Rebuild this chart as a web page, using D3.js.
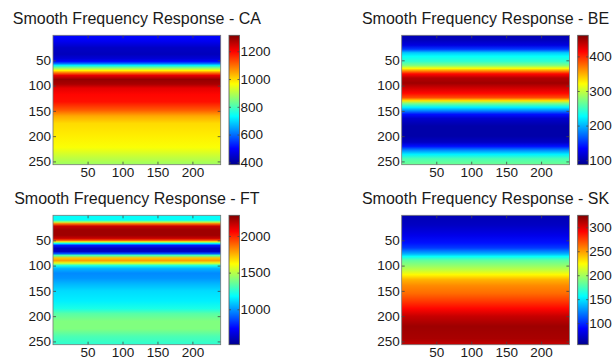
<!DOCTYPE html>
<html>
<head>
<meta charset="utf-8">
<script src="https://cdn.jsdelivr.net/npm/d3@7"></script>
<style>
  body { margin: 0; background: #fff; }
  text { font-family: Arial, "Liberation Sans", sans-serif; fill: #1a1a1a; }
</style>
</head>
<body>
<svg id="chart" width="612" height="359"></svg>
<script>
// image size (rows x columns) and shared ticks
const num_rows = 256;
const num_cols = 240;
const x_ticks = [50, 100, 150, 200];
const y_ticks = [50, 100, 150, 200, 250];

// row profiles (each row is nearly constant across columns)
const ca_rows = [1, 12, 25, 38, 47, 52, 56, 60, 65, 70, 75, 80, 88, 97, 105, 118, 132, 148, 160, 175, 200, 222, 240, 256];
const ca_values = [504, 486, 439, 430, 458, 504, 588, 719, 849, 970, 1101, 1222, 1296, 1278, 1222, 1194, 1185, 1119, 1045, 998, 980, 961, 914, 877];
const ca_range = [383, 1315];
const ca_ticks = [400, 600, 800, 1000, 1200];

const be_rows = [1, 10, 20, 28, 35, 42, 52, 60, 66, 71, 77, 85, 95, 105, 115, 124, 130, 136, 143, 150, 157, 165, 180, 200, 212, 220, 228, 236, 245, 256];
const be_values = [102, 106, 121, 154, 207, 229, 244, 274, 319, 364, 412, 442, 450, 431, 412, 386, 330, 267, 222, 181, 139, 113, 98, 98, 109, 139, 184, 222, 255, 267];
const be_range = [87, 461];
const be_ticks = [100, 200, 300, 400];

const ft_rows = [1, 10, 14, 17, 22, 30, 40, 46, 50, 53, 56, 60, 66, 72, 76, 80, 85, 90, 95, 100, 106, 115, 125, 135, 150, 170, 185, 195, 210, 225, 240, 256];
const ft_values = [1188, 1188, 1488, 1841, 2158, 2229, 2229, 2158, 1929, 1576, 1188, 782, 605, 623, 870, 1311, 1717, 1788, 1576, 1223, 1047, 976, 994, 1047, 1117, 1153, 1223, 1329, 1400, 1400, 1311, 1258];
const ft_range = [517, 2282];
const ft_ticks = [1000, 1500, 2000];

const sk_rows = [1, 20, 40, 55, 65, 72, 77, 82, 90, 100, 108, 118, 128, 140, 155, 170, 185, 200, 220, 245, 256];
const sk_values = [66, 71, 82, 93, 104, 123, 136, 158, 182, 195, 206, 225, 244, 255, 263, 276, 290, 306, 317, 314, 306];
const sk_range = [55, 325];
const sk_ticks = [100, 150, 200, 250, 300];

const panel_names = ["CA", "BE", "FT", "SK"];

// matlab jet colormap
const jet_stops = [0, 0.125, 0.375, 0.625, 0.875, 1];
const jet_colors = ["#00008f", "#0000ff", "#00ffff", "#ffff00", "#ff0000", "#800000"];
const jet = d3.scaleLinear().domain(jet_stops).range(jet_colors).clamp(true);

const col_x = [53, 401.7];
const row_y = [35.3, 215.3];
const plot_w = 167.7;
const plot_h = 129.4;
const cbar_gap = 8.3;
const cbar_w = 10.5;
const tick_len = 3;
const label_size = "13.5px";

const svg = d3.select("#chart");
const defs = svg.append("defs");

const panels = [
  { rows: ca_rows, values: ca_values, range: ca_range, ticks: ca_ticks, col: 0, row: 0 },
  { rows: be_rows, values: be_values, range: be_range, ticks: be_ticks, col: 1, row: 0 },
  { rows: ft_rows, values: ft_values, range: ft_range, ticks: ft_ticks, col: 0, row: 1 },
  { rows: sk_rows, values: sk_values, range: sk_range, ticks: sk_ticks, col: 1, row: 1 },
];

function styleAxis(g, show_labels) {
  g.select(".domain").remove();
  g.selectAll(".tick line").attr("stroke", "#444").attr("stroke-width", 0.8);
  if (show_labels) g.selectAll(".tick text").attr("font-size", label_size).attr("fill", "#1a1a1a");
  else g.selectAll(".tick text").remove();
}

function drawPanel(p, i) {
  const name = panel_names[i];
  const left = col_x[p.col];
  const top = row_y[p.row];
  const fmt = d3.format("d");

  const x = d3.scaleLinear().domain([0.5, num_cols + 0.5]).range([left, left + plot_w]);
  const y = d3.scaleLinear().domain([0.5, num_rows + 0.5]).range([top, top + plot_h]);
  const color = d3.scaleSequential((t) => jet(t)).domain(p.range).clamp(true);

  // heatmap: vertical gradient with one stop per sampled row
  const grad = defs
    .append("linearGradient")
    .attr("id", "grad_" + name)
    .attr("gradientUnits", "userSpaceOnUse")
    .attr("x1", 0).attr("x2", 0)
    .attr("y1", y(0.5)).attr("y2", y(num_rows + 0.5));
  p.rows.forEach((r, k) => {
    grad.append("stop")
      .attr("offset", (y(r) - y(0.5)) / (y(num_rows + 0.5) - y(0.5)))
      .attr("stop-color", color(p.values[k]));
  });

  const g = svg.append("g").attr("id", "panel_" + name);
  g.append("rect")
    .attr("x", x(0.5)).attr("y", y(0.5))
    .attr("width", x(num_cols + 0.5) - x(0.5))
    .attr("height", y(num_rows + 0.5) - y(0.5))
    .attr("fill", "url(#grad_" + name + ")");

  g.append("g").attr("transform", `translate(${left},0)`)
    .call(d3.axisLeft(y).tickValues(y_ticks).tickFormat(fmt).tickSize(-tick_len).tickPadding(2))
    .call((a) => styleAxis(a, true));
  g.append("g").attr("transform", `translate(${left + plot_w},0)`)
    .call(d3.axisRight(y).tickValues(y_ticks).tickSize(-tick_len))
    .call((a) => styleAxis(a, false));
  g.append("g").attr("transform", `translate(0,${top + plot_h})`)
    .call(d3.axisBottom(x).tickValues(x_ticks).tickFormat(fmt).tickSize(-tick_len).tickPadding(3))
    .call((a) => styleAxis(a, true));
  g.append("g").attr("transform", `translate(0,${top})`)
    .call(d3.axisTop(x).tickValues(x_ticks).tickSize(-tick_len))
    .call((a) => styleAxis(a, false));

  g.append("rect")
    .attr("x", left).attr("y", top)
    .attr("width", plot_w).attr("height", plot_h)
    .attr("fill", "none").attr("stroke", "#777").attr("stroke-width", 0.8);

  g.append("text")
    .attr("x", left + plot_w / 2)
    .attr("y", top - 11.2)
    .attr("text-anchor", "middle")
    .attr("font-size", "16px")
    .text("Smooth Frequency Response - " + name);

  // colorbar
  const cb_left = left + plot_w + cbar_gap;
  const c = d3.scaleLinear().domain(p.range).range([top + plot_h, top]);
  const cgrad = defs
    .append("linearGradient")
    .attr("id", "cbar_" + name)
    .attr("gradientUnits", "userSpaceOnUse")
    .attr("x1", 0).attr("x2", 0)
    .attr("y1", c(p.range[0])).attr("y2", c(p.range[1]));
  jet_stops.forEach((s, k) => {
    cgrad.append("stop").attr("offset", s).attr("stop-color", jet_colors[k]);
  });
  g.append("rect")
    .attr("x", cb_left).attr("y", top)
    .attr("width", cbar_w).attr("height", plot_h)
    .attr("fill", "url(#cbar_" + name + ")");
  g.append("g").attr("transform", `translate(${cb_left + cbar_w},0)`)
    .call(d3.axisRight(c).tickValues(p.ticks).tickFormat(fmt).tickSize(-2).tickPadding(1))
    .call((a) => styleAxis(a, true));
  g.append("g").attr("transform", `translate(${cb_left},0)`)
    .call(d3.axisLeft(c).tickValues(p.ticks).tickSize(-2))
    .call((a) => styleAxis(a, false));
  g.append("rect")
    .attr("x", cb_left).attr("y", top)
    .attr("width", cbar_w).attr("height", plot_h)
    .attr("fill", "none").attr("stroke", "#555").attr("stroke-width", 0.8);
}

panels.forEach(drawPanel);
</script>
</body>
</html>
